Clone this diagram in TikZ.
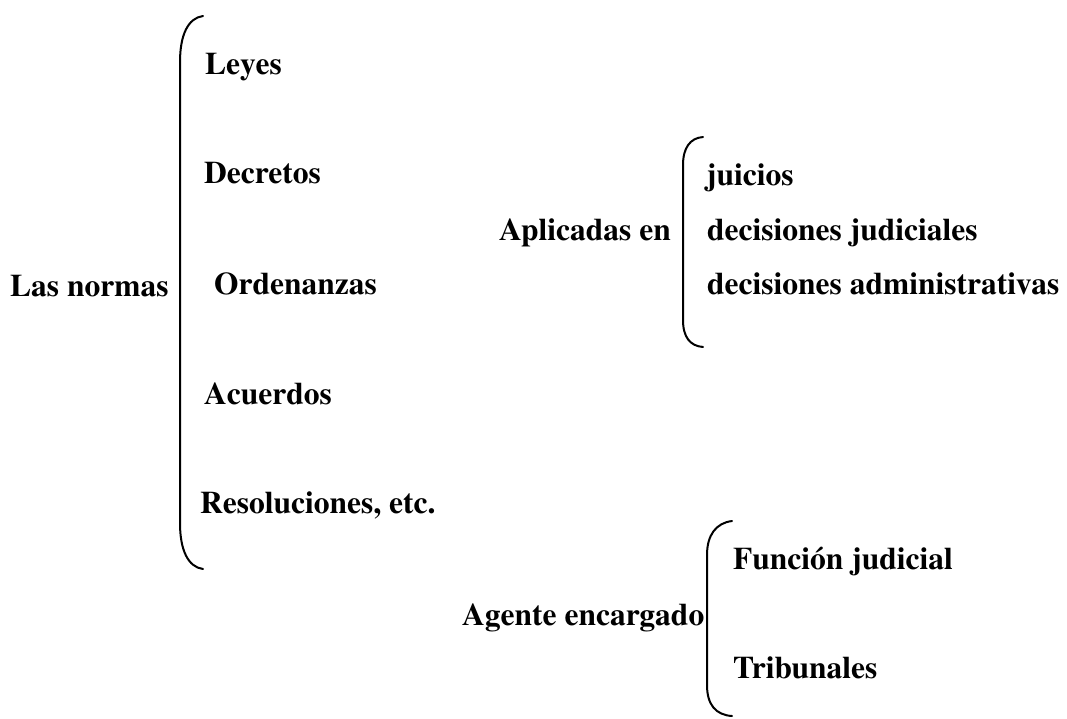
\documentclass[tikz,border=0pt]{standalone}
\usepackage[T1]{fontenc}
\usepackage{times}
\usepackage{tikz}
\tikzstyle{term} = [anchor=base west, inner sep=0pt, font=\fontsize{31.5}{36}\selectfont\bfseries]
\tikzstyle{brace} = [line width=2pt, line cap=round]

\begin{document}
\begin{tikzpicture}[x=1pt, y=-1pt]
                \useasboundingbox (0,0) rectangle (1067,718);
                \node (normas) [term] at (10,296) {Las normas};
                \node (leyes) [term] at (205,74) {Leyes};
                \node (decretos) [term] at (204,183) {Decretos};
                \node (ordenanzas) [term] at (214,294) {Ordenanzas};
                \node (acuerdos) [term] at (204,404) {Acuerdos};
                \node (resoluciones) [term] at (200,513) {Resoluciones, etc.};

                \node (aplicadas) [term] at (499,240) {Aplicadas en};
                \node (juicios) [term] at (706,185) {juicios};
                \node (judiciales) [term] at (707,240) {decisiones judiciales};
                \node (administrativas) [term] at (707,294) {decisiones administrativas};

                \node (agente) [term] at (462,625) {Agente encargado};
                \node (funcion) [term] at (733,569) {Funci\'on judicial};
                \node (tribunales) [term] at (733,678) {Tribunales};

                % brackets
                \draw [brace] (203,16) .. controls (188,18) and (180,35) .. (180,62) -- (180,523) .. controls (180,550) and (188,567) .. (203,569);
                \draw [brace] (703,137) .. controls (690,138) and (683,148) .. (683,165) -- (683,320) .. controls (683,337) and (690,346) .. (703,347);
                \draw [brace] (732,521) .. controls (716,523) and (707,535) .. (707,555) -- (707,685) .. controls (707,705) and (716,715) .. (732,716);
            \end{tikzpicture}
\end{document}
